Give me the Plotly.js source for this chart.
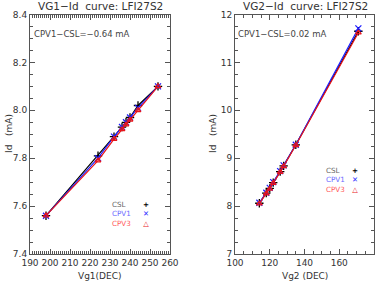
<!DOCTYPE html>
<html><head><meta charset="utf-8">
<script src="https://cdn.plot.ly/plotly-3.0.1.min.js"></script>
<style>html,body{margin:0;padding:0;background:#fff}#c{width:382px;height:282px}</style>
</head><body><div id="c"></div>
<script>
// Left panel: VG1 sweep
const vg1 = [198, 224, 232, 236, 238, 240, 244, 254];
const id1CSL  = [7.56, 7.81, 7.89, 7.93, 7.95, 7.97, 8.02, 8.10];
const id1CPV1 = [7.56, 7.80, 7.89, 7.93, 7.95, 7.97, 8.01, 8.10];
const id1CPV3 = [7.56, 7.79, 7.88, 7.92, 7.94, 7.96, 8.00, 8.10];
// Right panel: VG2 sweep
const vg2 = [114, 118, 120, 122, 126, 128, 135, 171];
const id2CSL  = [8.06, 8.27, 8.37, 8.49, 8.72, 8.84, 9.28, 11.65];
const id2CPV1 = [8.07, 8.28, 8.38, 8.50, 8.73, 8.85, 9.28, 11.71];
const id2CPV3 = [8.05, 8.26, 8.36, 8.48, 8.71, 8.83, 9.27, 11.62];
const seriesNames = ['CSL', 'CPV1', 'CPV3'];
const titles = ['VG1\u2212Id  curve: LFI27S2', 'VG2\u2212Id  curve: LFI27S2'];
const diffs = ['CPV1\u2212CSL=\u22120.64 mA', 'CPV1\u2212CSL=0.02 mA'];

const cols = ['#000000', '#1f1fff', '#e8151b'];
const syms = ['cross-thin-open', 'x-thin-open', 'triangle-up-open'];
const sizes = [6, 6, 5];
function tr(x, y, i, xa, ya) {
  return {x: x, y: y, xaxis: xa, yaxis: ya, mode: 'lines+markers', name: seriesNames[i],
    line: {color: cols[i], width: 1.2},
    marker: {symbol: syms[i], size: sizes[i], color: cols[i], line: {color: cols[i], width: 1.3}},
    showlegend: false};
}
const data = [
  tr(vg1, id1CSL, 0, 'x', 'y'), tr(vg1, id1CPV1, 1, 'x', 'y'), tr(vg1, id1CPV3, 2, 'x', 'y'),
  tr(vg2, id2CSL, 0, 'x2', 'y2'), tr(vg2, id2CPV1, 1, 'x2', 'y2'), tr(vg2, id2CPV3, 2, 'x2', 'y2')
];
const fnt = {family: 'DejaVu Sans, sans-serif', size: 9, color: '#333'};
function ax(extra) {
  return Object.assign({showgrid: false, zeroline: false, showline: true, linecolor: '#555', linewidth: 1,
    mirror: 'allticks', ticks: 'inside', ticklen: 5, tickcolor: '#555', tickfont: fnt, fixedrange: true}, extra);
}
const W = 382, H = 282;
const px = v => v / W, py = v => 1 - v / H;
const ann = [];
function txt(x, y, t, o) { ann.push(Object.assign({xref: 'paper', yref: 'paper', x: px(x), y: py(y), xanchor: 'center', yanchor: 'middle', text: t, showarrow: false, font: fnt}, o || {})); }
txt(100, 6, titles[0], {font: {family: 'DejaVu Sans, sans-serif', size: 10.5, color: '#333'}});
txt(305, 6, titles[1], {font: {family: 'DejaVu Sans, sans-serif', size: 10.5, color: '#333'}});
txt(32, 34, diffs[0], {xanchor: 'left', font: {family: 'DejaVu Sans, sans-serif', size: 8.5, color: '#444'}});
txt(236, 34, diffs[1], {xanchor: 'left', font: {family: 'DejaVu Sans, sans-serif', size: 8.5, color: '#444'}});
txt(9, 134, 'Id   (mA)', {textangle: -90});
txt(213, 134, 'Id   (mA)', {textangle: -90});
txt(100, 276, 'Vg1(DEC)');
txt(305, 276, 'Vg2 (DEC)');
const legCols = ['#666', '#6a6aff', '#ff5a5a'];
const legSym = ['<b>+</b>', '<b>\u2715</b>', '<b>\u25B3</b>'];
function leg(xt, xs, yc) {
  const names = seriesNames.map((n, i) => '<span style="color:' + legCols[i] + '">' + n + '</span>').join('<br>');
  const symsTxt = legSym.map((s, i) => '<span style="color:' + cols[i] + '">' + s + '</span>').join('<br>');
  txt(xt, yc, names, {xanchor: 'left', align: 'left', borderpad: 0, font: {family: 'DejaVu Sans, sans-serif', size: 7.2, color: '#666'}});
  txt(xs, yc, symsTxt, {borderpad: 0, font: {family: 'DejaVu Sans, sans-serif', size: 7.2, color: '#000'}});
}
leg(111, 146, 214);
leg(325, 355, 180);
const layout = {
  width: W, height: H, margin: {l: 0, r: 0, t: 0, b: 0}, paper_bgcolor: '#fff', plot_bgcolor: '#fff',
  xaxis: ax({domain: [px(30), px(170)], range: [190, 260], dtick: 10, minor: {dtick: 1, ticklen: 3, ticks: 'inside', tickcolor: '#555'}, anchor: 'y'}),
  yaxis: ax({domain: [py(254), py(14.5)], range: [7.4, 8.4], dtick: 0.2, tickformat: '.1f', minor: {dtick: 0.05, ticklen: 3, ticks: 'inside', tickcolor: '#555'}, anchor: 'x'}),
  xaxis2: ax({domain: [px(235), px(374)], range: [100, 180], dtick: 20, minor: {dtick: 5, ticklen: 3, ticks: 'inside', tickcolor: '#555'}, anchor: 'y2'}),
  yaxis2: ax({domain: [py(254), py(14.5)], range: [7, 12], dtick: 1, minor: {dtick: 0.25, ticklen: 3, ticks: 'inside', tickcolor: '#555'}, anchor: 'x2'}),
  annotations: ann
};
Plotly.newPlot('c', data, layout, {staticPlot: true});
</script></body></html>
